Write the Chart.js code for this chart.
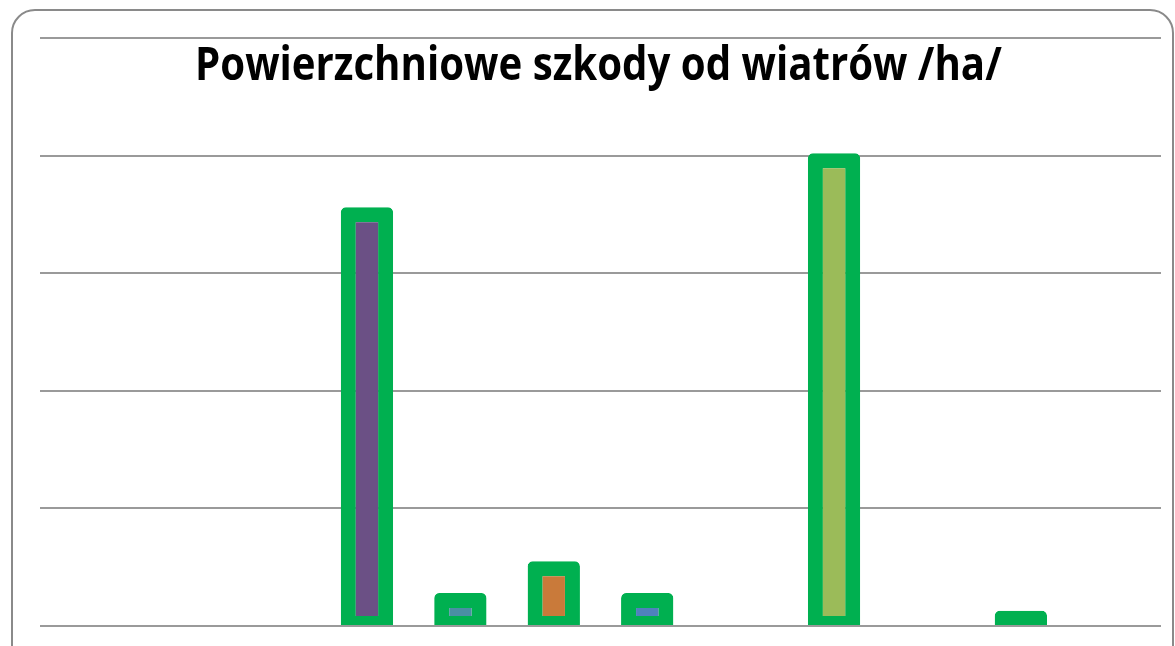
<!DOCTYPE html>
<html>
<head>
<meta charset="utf-8">
<script src="https://cdn.jsdelivr.net/npm/chart.js@4/dist/chart.umd.min.js"></script>
<style>
    html, body { margin: 0; padding: 0; background: #fff; overflow: hidden; }
    #wrap { position: relative; width: 1175px; height: 646px; overflow: hidden; }
    #frame {
        position: absolute; left: 11px; top: 9px; width: 1163px; height: 680px;
        border: 2px solid #8a8a8a; border-radius: 24px; box-sizing: border-box;
    }
    #title {
        position: absolute; left: 0; width: 1197px; top: 34px; text-align: center;
        font-family: "Open Sans", sans-serif;
        font-weight: bold; font-size: 47px; line-height: 56px; color: #000;
        transform: scaleX(0.855); transform-origin: 598px 0;
    }
    #chart { position: absolute; left: 0; top: 0; }
</style>
</head>
<body>
<div id="wrap">
    <div id="frame"></div>
    <canvas id="chart" width="1175" height="646"></canvas>
    <div id="title">Powierzchniowe szkody od wiatrów /ha/</div>
</div>
<script>
// Data (hectares), 12 categories, axis labels hidden
const categories = ['1', '2', '3', '4', '5', '6', '7', '8', '9', '10', '11', '12'];
const damageHa = [null, null, null, 1780, 140, 275, 140, null, 2010, null, 65, null];
const barColors = ['#6b5085', '#6b5085', '#6b5085', '#6b5085', '#4a8fa3', '#c97a3a',
                   '#4f81bd', '#9bbb59', '#9bbb59', '#00b050', '#00b050', '#00b050'];
const yTicks = [0, 500, 1000, 1500, 2000, 2500];

const ctx = document.getElementById('chart');

new Chart(ctx, {
    type: 'bar',
    data: {
        labels: categories,
        datasets: [{
            data: damageHa,
            backgroundColor: barColors,
            borderColor: '#00b050',
            borderWidth: { top: 15, left: 15, right: 15, bottom: 9 },
            borderSkipped: false,
            borderRadius: { topLeft: 5, topRight: 5, bottomLeft: 0, bottomRight: 0 },
            barPercentage: 0.56,
            categoryPercentage: 1
        }]
    },
    options: {
        responsive: false,
        animation: false,
        layout: { padding: { left: 40, right: 14, top: 38, bottom: 12 } },
        plugins: {
            legend: { display: false },
            title: { display: false },
            tooltip: { enabled: false }
        },
        scales: {
            x: {
                grid: { display: false },
                border: { display: false },
                ticks: { display: false }
            },
            y: {
                min: yTicks[0],
                max: yTicks[yTicks.length - 1],
                afterBuildTicks: (scale) => { scale.ticks = yTicks.map(v => ({ value: v })); },
                grid: { color: '#9a9a9a', lineWidth: 2, drawTicks: false },
                border: { display: false },
                ticks: { display: false }
            }
        }
    }
});
</script>
</body>
</html>
